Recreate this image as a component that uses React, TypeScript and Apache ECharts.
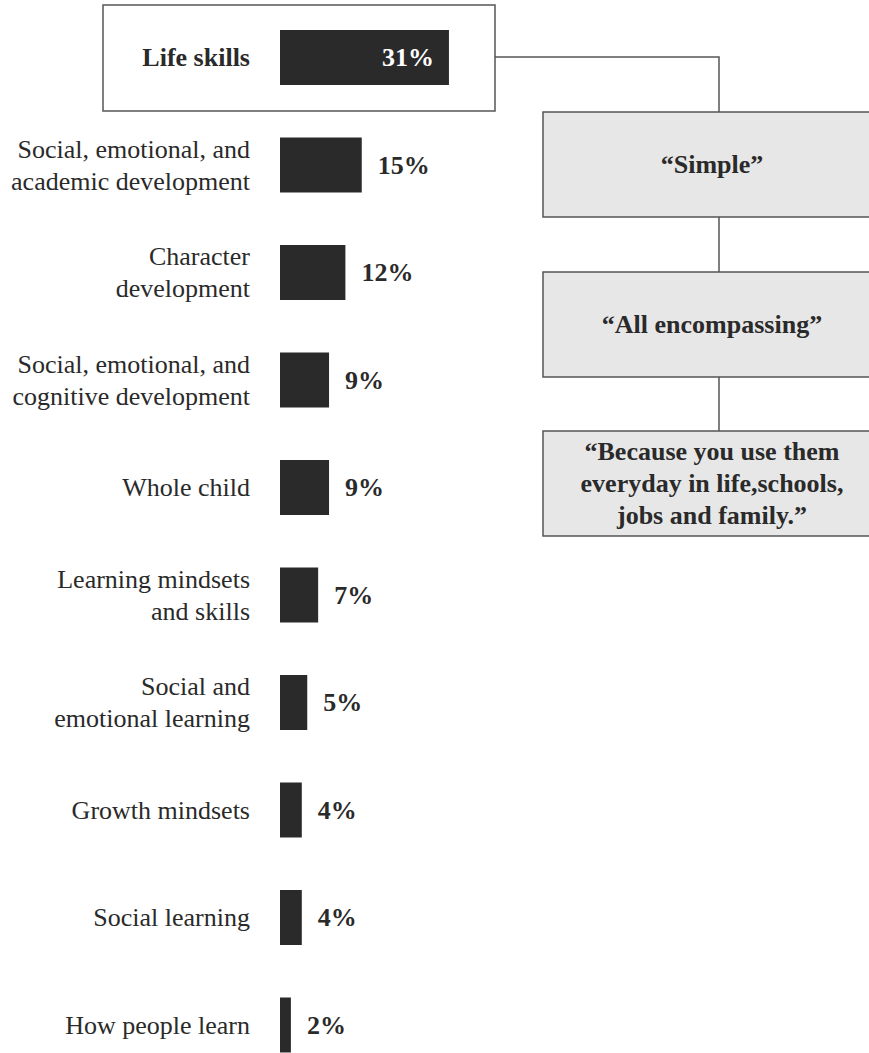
import React, { useEffect, useRef } from "react";
import * as echarts from "echarts";

const categories: string[] = [
  "Life skills",
  "Social, emotional, and\nacademic development",
  "Character\ndevelopment",
  "Social, emotional, and\ncognitive development",
  "Whole child",
  "Learning mindsets\nand skills",
  "Social and\nemotional learning",
  "Growth mindsets",
  "Social learning",
  "How people learn",
];

const values: number[] = [31, 15, 12, 9, 9, 7, 5, 4, 4, 2];

const notes: string[] = [
  "\u201CSimple\u201D",
  "\u201CAll encompassing\u201D",
  "\u201CBecause you use them\neveryday in life,schools,\njobs and family.\u201D",
];

const FONT = "Liberation Serif";
const TEXT = "#2a2a2a";
const BAR = "#2b2a2b";
const LINE = "#555555";

export default function App() {
  const ref = useRef<HTMLDivElement>(null);

  useEffect(() => {
    if (!ref.current) return;
    const chart = echarts.init(ref.current, null, { renderer: "svg" });

    const boxTops = [112, 272, 431];
    const boxH = 105;
    const boxX = 543;
    const connX = 719;
    const textX = 712;

    const graphics: any[] = [
      {
        type: "rect",
        shape: { x: 103, y: 5, width: 392, height: 106 },
        style: { fill: "none", stroke: LINE, lineWidth: 1.5 },
        z: 10,
      },
      {
        type: "polyline",
        shape: { points: [[495, 57], [connX, 57], [connX, boxTops[0]]] },
        style: { fill: "none", stroke: LINE, lineWidth: 1.5 },
        z: 10,
      },
    ];
    for (let i = 1; i < boxTops.length; i++) {
      graphics.push({
        type: "line",
        shape: { x1: connX, y1: boxTops[i - 1] + boxH, x2: connX, y2: boxTops[i] },
        style: { stroke: LINE, lineWidth: 1.5 },
        z: 10,
      });
    }
    notes.forEach((t, i) => {
      graphics.push({
        type: "rect",
        shape: { x: boxX, y: boxTops[i], width: 340, height: boxH },
        style: { fill: "#e7e7e7", stroke: LINE, lineWidth: 1.5 },
        z: 10,
      });
      graphics.push({
        type: "text",
        x: textX,
        y: boxTops[i] + boxH / 2,
        style: {
          text: t,
          fill: TEXT,
          fontFamily: FONT,
          fontSize: 26,
          fontWeight: "bold",
          lineHeight: 32,
          align: "center",
          verticalAlign: "middle",
        },
        z: 11,
      });
    });

    chart.setOption({
      animation: false,
      backgroundColor: "#ffffff",
      textStyle: { fontFamily: FONT },
      grid: { left: 280, top: 3.75, width: 545, height: 1075, containLabel: false },
      xAxis: { type: "value", min: 0, max: 100, show: false },
      yAxis: {
        type: "category",
        inverse: true,
        data: categories,
        axisLine: { show: false },
        axisTick: { show: false },
        splitLine: { show: false },
        axisLabel: {
          margin: 30,
          align: "right",
          fontFamily: FONT,
          fontSize: 26,
          lineHeight: 32,
          color: TEXT,
          formatter: (v: string, idx: number) => (idx === 0 ? `{b|${v}}` : `{n|${v}}`),
          rich: {
            b: { fontFamily: FONT, fontSize: 26, fontWeight: "bold", color: TEXT, lineHeight: 32 },
            n: { fontFamily: FONT, fontSize: 26, color: TEXT, lineHeight: 32 },
          },
        },
      },
      series: [
        {
          type: "bar",
          barWidth: 55,
          itemStyle: { color: BAR },
          label: {
            show: true,
            position: "right",
            distance: 16,
            formatter: "{c}%",
            fontFamily: FONT,
            fontSize: 26,
            fontWeight: "bold",
            color: TEXT,
          },
          data: values.map((v, i) =>
            i === 0
              ? {
                  value: v,
                  label: { position: "insideRight", distance: 15, color: "#ffffff" },
                }
              : v
          ),
        },
      ],
      graphic: graphics,
    });

    return () => chart.dispose();
  }, []);

  return (
    <div
      style={{
        position: "absolute",
        left: 0,
        top: 0,
        width: 869,
        height: 1053,
        overflow: "hidden",
        background: "#ffffff",
      }}
    >
      <div ref={ref} style={{ width: 869, height: 1100 }} />
    </div>
  );
}
